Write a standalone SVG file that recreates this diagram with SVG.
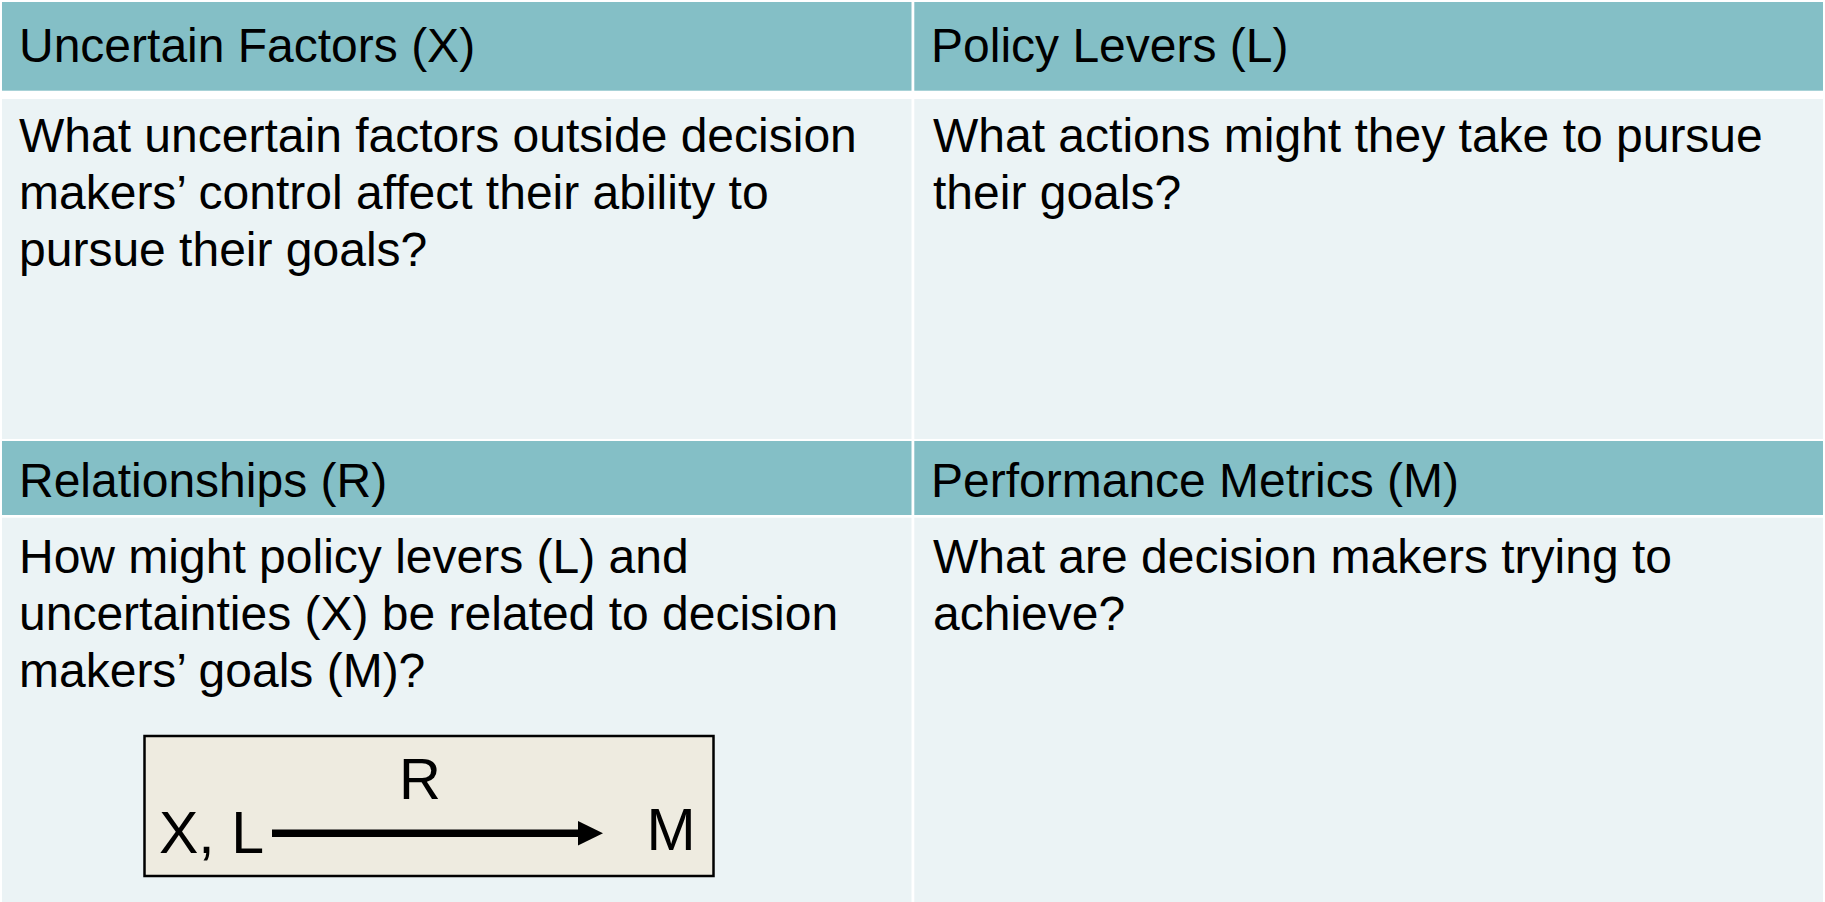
<svg xmlns="http://www.w3.org/2000/svg" width="1825" height="902" viewBox="0 0 1825 902">
<style>
.hdr{fill:#84BFC6}
.body{fill:#EBF3F5}
.t{font-family:"Liberation Sans",Arial,sans-serif;font-size:48px;fill:#000}
.bt{font-family:"Liberation Sans",Arial,sans-serif;fill:#000}
</style>
<rect x="0" y="0" width="1825" height="902" fill="#FFFFFF"/>
<g id="uncertain-factors">
<rect class="hdr" x="2" y="2" width="909.5" height="88.7"/>
<text class="t" x="19" y="62">Uncertain Factors (X)</text>
<rect class="body" x="2" y="99" width="909.5" height="340"/>
<text class="t" x="19" y="152">What uncertain factors outside decision</text>
<text class="t" x="19" y="209">makers’ control affect their ability to</text>
<text class="t" x="19" y="266">pursue their goals?</text>
</g>
<g id="policy-levers">
<rect class="hdr" x="914.3" y="2" width="908.7" height="88.7"/>
<text class="t" x="931" y="62">Policy Levers (L)</text>
<rect class="body" x="914.3" y="99" width="908.7" height="340"/>
<text class="t" x="933" y="152">What actions might they take to pursue</text>
<text class="t" x="933" y="209">their goals?</text>
</g>
<g id="relationships">
<rect class="hdr" x="2" y="441" width="909.5" height="74"/>
<text class="t" x="19" y="497">Relationships (R)</text>
<rect class="body" x="2" y="517.7" width="909.5" height="384.3"/>
<text class="t" x="19" y="573">How might policy levers (L) and</text>
<text class="t" x="19" y="630">uncertainties (X) be related to decision</text>
<text class="t" x="19" y="687">makers’ goals (M)?</text>
</g>
<g id="performance-metrics">
<rect class="hdr" x="914.3" y="441" width="908.7" height="74"/>
<text class="t" x="931" y="497">Performance Metrics (M)</text>
<rect class="body" x="914.3" y="517.7" width="908.7" height="384.3"/>
<text class="t" x="933" y="573">What are decision makers trying to</text>
<text class="t" x="933" y="630">achieve?</text>
</g>
<g id="relation-box">
<rect x="144.5" y="736" width="569" height="140" fill="#EEEBE0" stroke="#000" stroke-width="2.5"/>
<text class="bt" font-size="59" x="159" y="853">X, L</text>
<text class="bt" font-size="58" x="399" y="799">R</text>
<text class="bt" font-size="59" x="646.5" y="850">M</text>
</g>
<g id="connectors">
<line x1="272" y1="833.3" x2="580" y2="833.3" stroke="#000" stroke-width="7.5"/>
<polygon points="578,821 603,833.3 578,845.5" fill="#000"/>
</g>
</svg>
